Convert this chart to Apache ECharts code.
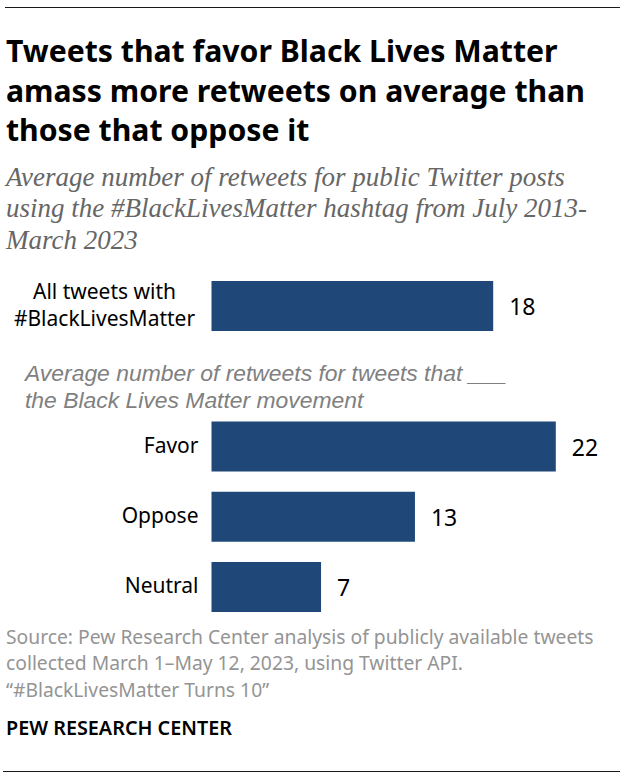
<!DOCTYPE html>
<html>
<head>
<meta charset="utf-8">
<style>
  html, body { margin: 0; padding: 0; background: #fff; }
  #chart { width: 620px; height: 780px; }
</style>
<script src="https://cdn.jsdelivr.net/npm/echarts@6/dist/echarts.min.js"></script>
</head>
<body>
<div id="chart"></div>
<script>
const categories = ["All tweets with\n#BlackLivesMatter", "", "Favor", "Oppose", "Neutral"];
const values = [18, null, 22, 13, 7];

const titleText = "Tweets that favor Black Lives Matter\namass more retweets on average than\nthose that oppose it";
const subtitleText = "Average number of retweets for public Twitter posts\nusing the #BlackLivesMatter hashtag from July 2013-\nMarch 2023";
const noteText = "Average number of retweets for tweets that ___\nthe Black Lives Matter movement";
const sourceText = "Source: Pew Research Center analysis of publicly available tweets\ncollected March 1–May 12, 2023, using Twitter API.\n“#BlackLivesMatter Turns 10”";
const brandText = "PEW RESEARCH CENTER";

const sansFont = "Noto Sans";
const barColor = "#1F4878";

const chart = echarts.init(document.getElementById("chart"), null, { renderer: "svg" });

chart.setOption({
    animation: false,
    backgroundColor: "#fff",
    title: [
        { text: titleText, left: 6, top: 31, padding: 0, textStyle: { fontFamily: sansFont, fontWeight: 700, fontSize: 30.2, lineHeight: 39.5, color: "#000" } },
        { text: subtitleText, left: 6, top: 161, padding: 0, textStyle: { fontFamily: "Liberation Serif", fontStyle: "italic", fontWeight: 400, fontSize: 27, lineHeight: 31.5, color: "#666" } },
        { text: noteText, left: 25, top: 359, padding: 0, textStyle: { fontFamily: "Liberation Sans", fontStyle: "italic", fontWeight: 400, fontSize: 22.9, lineHeight: 27, color: "#808080" } },
        { text: sourceText, left: 6, top: 623, padding: 0, textStyle: { fontFamily: sansFont, fontWeight: 400, fontSize: 19.3, lineHeight: 26.5, color: "#949494" } },
        { text: brandText, left: 6, top: 715, padding: 0, textStyle: { fontFamily: sansFont, fontWeight: 600, fontSize: 19.8, lineHeight: 24, color: "#000" } }
    ],
    graphic: [
        { type: "line", shape: { x1: 5, y1: 7.5, x2: 620, y2: 7.5 }, style: { stroke: "#1a1a1a", lineWidth: 1 } },
        { type: "line", shape: { x1: 3, y1: 771.5, x2: 620, y2: 771.5 }, style: { stroke: "#1a1a1a", lineWidth: 1 } }
    ],
    grid: { left: 211.5, top: 271, width: 391.25, height: 351 },
    xAxis: { type: "value", min: 0, max: 25, show: false },
    yAxis: {
        type: "category",
        inverse: true,
        data: categories,
        axisLine: { show: false },
        axisTick: { show: false },
        axisLabel: {
            interval: 0,
            margin: 13,
            padding: [0, 0, 3, 0],
            fontFamily: sansFont,
            fontSize: 21,
            lineHeight: 27,
            color: "#000",
            formatter: function (value) {
                if (value.indexOf("\n") < 0) return value;
                return value.split("\n").map(function (line) { return "{block|" + line + "}"; }).join("\n");
            },
            rich: { block: { width: 188, align: "center", fontFamily: sansFont, fontSize: 21, lineHeight: 27, color: "#000" } }
        }
    },
    series: [{
        type: "bar",
        data: values,
        barWidth: 50,
        itemStyle: { color: barColor },
        label: { show: true, position: "right", distance: 16, fontFamily: sansFont, fontSize: 23, color: "#000" }
    }]
});
</script>
</body>
</html>
